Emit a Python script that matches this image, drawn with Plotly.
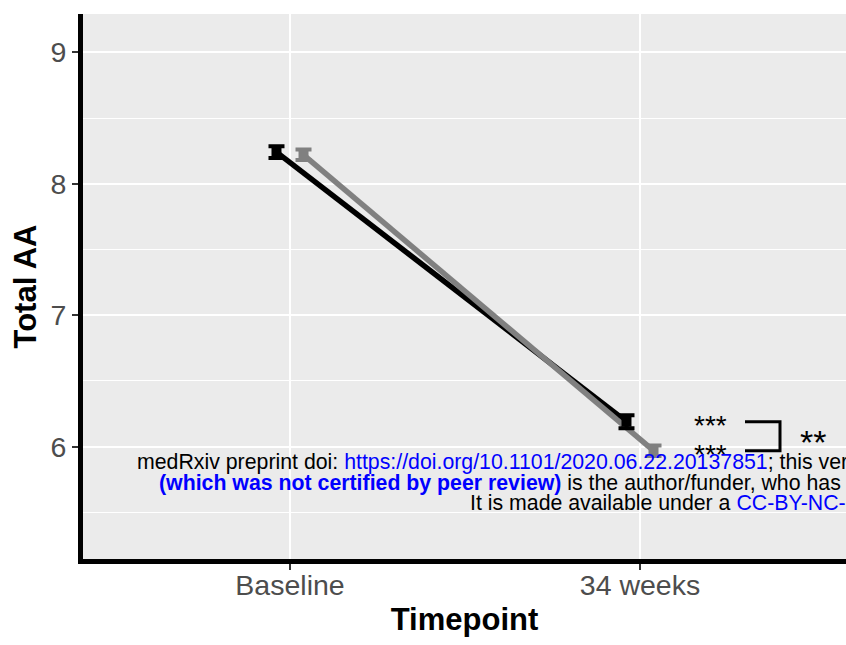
import plotly.graph_objects as go

# ---- data ----
timepoints = ["Baseline", "34 weeks"]
group_names = ["Group 1", "Group 2"]
mean_black = [8.24, 6.19]
err_black = [0.045, 0.05]
mean_grey = [8.22, 5.97]
err_grey = [0.04, 0.04]
group_colors = ["#000000", "#808080"]
within_sig = ["***", "***"]
between_sig = "**"
y_ticks = [6, 7, 8, 9]

W, H = 846, 645
L, R, T, B = 83, 0, 14, 86
pw, ph = W - L - R, H - T - B

x_pos = [1, 2]
dodge = 0.0386

def px_x(px):
    return (px - L) / pw

def px_y(py):
    return (H - B - py) / ph

fig = go.Figure()

series = [
    (mean_black, err_black, group_colors[0], -dodge, group_names[0]),
    (mean_grey, err_grey, group_colors[1], dodge, group_names[1]),
]

# lines
for m, e, c, d, n in series:
    fig.add_trace(go.Scatter(
        x=[xp + d for xp in x_pos], y=m, mode="lines",
        line=dict(color=c, width=5.5), showlegend=False, hoverinfo="skip"))

# error bars + points
for m, e, c, d, n in series:
    fig.add_trace(go.Scatter(
        x=[xp + d for xp in x_pos], y=m, mode="markers",
        marker=dict(color=c, size=10, symbol="square"),
        error_y=dict(type="data", array=e, color=c, thickness=4, width=8),
        name=n, showlegend=False))

font_main = "Liberation Sans, Arial, sans-serif"
ann = []

# significance labels at 34 weeks
sig_x = 2.2
for m, s in zip([mean_black[1], mean_grey[1]], within_sig):
    ann.append(dict(x=sig_x, y=m, xref="x", yref="y", text=s, showarrow=False,
                    font=dict(size=28, color="black", family=font_main),
                    xanchor="center", yanchor="middle", yshift=-4))

# bracket
bx0, bx1 = 2.30, 2.40
fig.add_shape(type="path",
              path=f"M {bx0},{mean_black[1]} L {bx1},{mean_black[1]} L {bx1},{mean_grey[1]} L {bx0},{mean_grey[1]}",
              xref="x", yref="y", line=dict(color="black", width=3))
ann.append(dict(x=2.495, y=(mean_black[1] + mean_grey[1]) / 2, xref="x", yref="y",
                text=between_sig, showarrow=False,
                font=dict(size=34, color="black", family=font_main),
                xanchor="center", yanchor="middle", yshift=-6))

# medRxiv watermark
wm_lines = [
    (135, 462, "medRxiv preprint doi: <span style='color:#0000FF'>https://doi.org/10.1101/2020.06.22.20137851</span>; this version posted June 24, 2020. The copyright holder for this preprint"),
    (157, 483, "<span style='color:#0000FF'><b>(which was not certified by peer review)</b></span> is the author/funder, who has granted medRxiv a license to display the preprint in perpetuity."),
    (468, 503, "It is made available under a <span style='color:#0000FF'>CC-BY-NC-ND 4.0 International license</span> ."),
]
for xp, yp, t in wm_lines:
    ann.append(dict(x=px_x(xp), y=px_y(yp), xref="paper", yref="paper", text=t,
                    showarrow=False, xanchor="left", yanchor="middle",
                    font=dict(size=21.3, color="black", family=font_main)))

fig.update_layout(
    width=W, height=H,
    margin=dict(l=L, r=R, t=T, b=B, pad=0),
    plot_bgcolor="#EBEBEB", paper_bgcolor="white",
    font=dict(family=font_main),
    annotations=ann,
    showlegend=False,
)
fig.update_xaxes(
    range=[1 - 207 / 350, 2 + 206 / 350],
    tickvals=x_pos, ticktext=timepoints,
    showgrid=True, gridcolor="white", gridwidth=2,
    zeroline=False,
    showline=True, linecolor="black", linewidth=5,
    ticks="outside", ticklen=6, tickwidth=2, tickcolor="#333333",
    ticklabelstandoff=-9,
    tickfont=dict(size=28.5, color="#4D4D4D"),
    title=dict(text="<b>Timepoint</b>", font=dict(size=31, color="black"), standoff=10),
)
fig.update_yaxes(
    range=[5.146, 9.291],
    tickvals=y_ticks,
    showgrid=True, gridcolor="white", gridwidth=2,
    minor=dict(dtick=0.5, tick0=0.5, showgrid=True, gridcolor="white", gridwidth=1, ticks=""),
    zeroline=False,
    showline=True, linecolor="black", linewidth=5,
    ticks="outside", ticklen=6, tickwidth=2, tickcolor="#333333",
    tickfont=dict(size=28.5, color="#4D4D4D"),
    title=dict(text="<b>Total AA</b>", font=dict(size=31, color="black"), standoff=6),
)

fig.write_html("out.html", config={"displayModeBar": False},
               post_script="document.body.style.margin='0';document.body.style.overflow='hidden';")
